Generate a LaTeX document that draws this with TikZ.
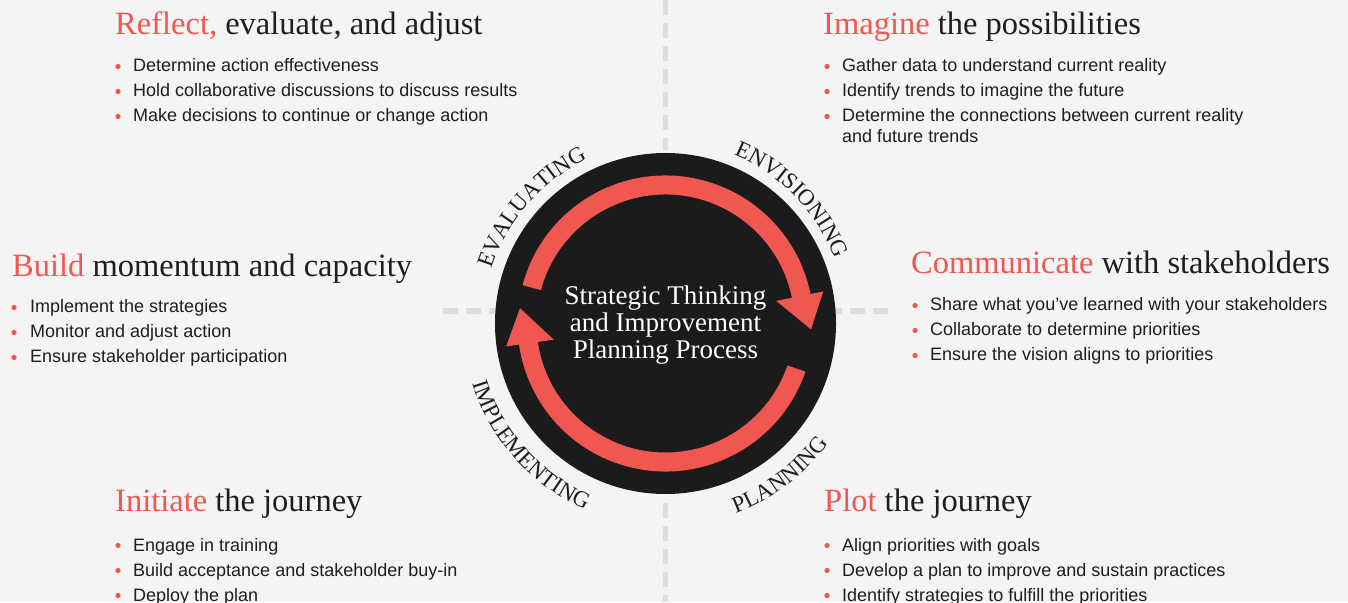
\documentclass[tikz,border=0pt]{standalone}
\usepackage{fontspec}
\setmainfont{Liberation Serif}
\newfontfamily\bodyfont{Liberation Sans}
\usetikzlibrary{decorations.text}

\definecolor{paper}{RGB}{243,244,243}
\definecolor{coral}{RGB}{240,87,80}
\definecolor{ink}{RGB}{30,30,30}
\definecolor{disc}{RGB}{27,27,27}
\definecolor{guide}{RGB}{221,221,221}

\newcommand{\headfont}{\fontsize{32.5}{32.5}\selectfont}
\newcommand{\itemfont}{\bodyfont\fontsize{18}{21}\selectfont}
\newcommand{\ringfont}{\fontsize{23}{23}\selectfont}

\tikzset{
  heading/.style={anchor=base west,inner sep=0pt,text=ink,font=\headfont},
  item/.style={anchor=base west,inner sep=0pt,text=ink,font=\itemfont},
  guideline/.style={color=guide,line width=5.5pt,dash pattern=on 15pt off 8pt},
  ringlabel/.style={decorate,decoration={text along path,text align=center,text color=ink,text={|\ringfont|#1}}},
}

\begin{document}
\begin{tikzpicture}[x=1pt,y=1pt]

\useasboundingbox (0,0) rectangle (1348,602);
\fill[color=paper] (0,0) rectangle (1348,602);

\def\cx{665.5}
\def\cy{278.5}
\def\radius{170.5}

\draw[guideline] (\cx,602) -- (\cx,452);
\draw[guideline] (\cx,99) -- (\cx,0);
\draw[guideline] (443,291) -- (497,291);
\draw[guideline] (888,291) -- (834,291);

\begin{scope}[shift={(\cx,\cy)}]
\def\rin{129}
\def\rout{148}
\def\hin{113}
\def\hout{161}

\fill[color=disc] (0,0) circle[radius={\radius}];

\fill[color=coral] (165:\rout) arc[start angle=165,end angle=11.5,radius=\rout] -- (11.5:\hout) -- (-2.3:145.6) -- (11.5:\hin) -- (11.5:\rin) arc[start angle=11.5,end angle=165,radius=\rin] -- cycle;
\fill[color=coral] (-19:\rout) arc[start angle=-19,end angle=-171.8,radius=\rout] -- (-171.8:\hout) -- (-186:146.3) -- (-171.8:\hin) -- (-171.8:\rin) arc[start angle=-171.8,end angle=-19,radius=\rin] -- cycle;

\path[ringlabel=EVALUATING] (184:181.7) arc[start angle=184,end angle=94,radius=181.7];
\path[ringlabel=ENVISIONING] (89.4:181.7) arc[start angle=89.4,end angle=-0.6,radius=181.7];
\path[ringlabel=IMPLEMENTING] (177:202.3) arc[start angle=177,end angle=267,radius=202.3];
\path[ringlabel=PLANNING] (-98:202.3) arc[start angle=-98,end angle=-8,radius=202.3];

\node[align=center,text=white,font=\fontsize{27}{27}\selectfont] (process) at (0,-1.5) {Strategic Thinking\\and Improvement\\Planning Process};
\end{scope}

\node[heading] (reflect) at (115,567) {{\color{coral}Reflect,} evaluate, and adjust};
\foreach \txt [count=\i] in {Determine action effectiveness,Hold collaborative discussions to discuss results,Make decisions to continue or change action}{
  \node[item] (reflect\i) at (133,{555-25*\i}) {\txt};
  \fill[color=coral] (118,{560.5-25*\i}) circle[radius=2.6];
}

\node[heading] (imagine) at (823,567) {{\color{coral}Imagine} the possibilities};
\foreach \txt [count=\i] in {Gather data to understand current reality,Identify trends to imagine the future,{\begin{tabular}[t]{@{}l@{}}Determine the connections between current reality\\and future trends\end{tabular}}}{
  \node[item] (imagine\i) at (842,{555-25*\i}) {\txt};
  \fill[color=coral] (827,{560.5-25*\i}) circle[radius=2.6];
}

\node[heading] (build) at (12,325) {{\color{coral}Build} momentum and capacity};
\foreach \txt [count=\i] in {Implement the strategies,Monitor and adjust action,Ensure stakeholder participation}{
  \node[item] (build\i) at (30,{314-25*\i}) {\txt};
  \fill[color=coral] (14,{319.5-25*\i}) circle[radius=2.6];
}

\node[heading] (communicate) at (911,328) {{\color{coral}Communicate} with stakeholders};
\foreach \txt [count=\i] in {Share what you’ve learned with your stakeholders,Collaborate to determine priorities,Ensure the vision aligns to priorities}{
  \node[item] (communicate\i) at (930,{316-25*\i}) {\txt};
  \fill[color=coral] (915,{321.5-25*\i}) circle[radius=2.6];
}

\node[heading] (initiate) at (115,90) {{\color{coral}Initiate} the journey};
\foreach \txt [count=\i] in {Engage in training,Build acceptance and stakeholder buy-in,Deploy the plan}{
  \node[item] (initiate\i) at (133,{76-25*\i}) {\txt};
  \fill[color=coral] (118,{81.5-25*\i}) circle[radius=2.6];
}

\node[heading] (plot) at (824,90) {{\color{coral}Plot} the journey};
\foreach \txt [count=\i] in {Align priorities with goals,Develop a plan to improve and sustain practices,Identify strategies to fulfill the priorities}{
  \node[item] (plot\i) at (842,{76-25*\i}) {\txt};
  \fill[color=coral] (827,{81.5-25*\i}) circle[radius=2.6];
}

\end{tikzpicture}
\end{document}
